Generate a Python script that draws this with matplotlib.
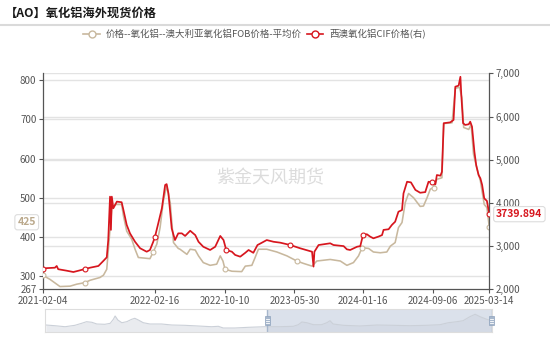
"""Alumina overseas spot prices: Australia FOB (left axis) vs West Australia CIF (right axis)."""

import matplotlib
matplotlib.use("Agg")
import matplotlib.pyplot as plt
import matplotlib.dates as mdates
import matplotlib.transforms as mtransforms
from matplotlib.lines import Line2D
from matplotlib.patches import Rectangle
import numpy as np
import pandas as pd

plt.rcParams["font.family"] = ["Noto Sans CJK SC", "DejaVu Sans"]

# ---------------------------------------------------------------------------
# Data
# ---------------------------------------------------------------------------
TITLE = "【AO】氧化铝海外现货价格"
FOB_LABEL = "价格--氧化铝--澳大利亚氧化铝FOB价格-平均价"
CIF_LABEL = "西澳氧化铝CIF价格(右)"
WATERMARK = "紫金天风期货"

FOB_DATES = [
    "2021-02-04", "2021-03-01", "2021-03-23", "2021-04-03", "2021-05-07", "2021-05-29",
    "2021-06-26", "2021-07-13", "2021-08-15", "2021-08-27", "2021-09-07", "2021-09-18",
    "2021-09-24", "2021-10-05", "2021-10-27", "2021-11-02", "2021-11-13", "2021-11-30",
    "2021-12-11", "2021-12-22", "2022-01-30", "2022-02-10", "2022-02-22", "2022-03-05",
    "2022-03-16", "2022-03-27", "2022-04-08", "2022-04-19", "2022-05-05", "2022-05-11",
    "2022-06-03", "2022-06-14", "2022-07-01", "2022-07-12", "2022-07-28", "2022-08-20",
    "2022-09-11", "2022-09-23", "2022-10-02", "2022-10-09", "2022-11-01", "2022-12-04",
    "2022-12-16", "2023-01-07", "2023-01-18", "2023-01-29", "2023-02-26", "2023-04-01",
    "2023-05-05", "2023-06-07", "2023-06-29", "2023-07-28", "2023-08-13", "2023-09-27",
    "2023-10-31", "2023-11-22", "2023-12-14", "2023-12-31", "2024-01-12", "2024-02-03",
    "2024-02-19", "2024-03-13", "2024-04-04", "2024-04-16", "2024-05-02", "2024-05-13",
    "2024-05-25", "2024-06-05", "2024-06-16", "2024-07-03", "2024-07-25", "2024-08-05",
    "2024-08-17", "2024-08-28", "2024-09-08", "2024-09-19", "2024-10-06", "2024-10-12",
    "2024-11-09", "2024-11-20", "2024-12-04", "2024-12-12", "2024-12-18", "2025-01-04",
    "2025-01-12", "2025-01-20", "2025-02-01", "2025-02-12", "2025-02-25", "2025-03-06",
    "2025-03-14",
]
FOB_VALUES = [
    303, 292, 280, 274, 275, 280, 284, 290, 297, 303, 318, 420, 471, 483, 483, 454, 415, 394,
    369, 348, 345, 362, 382, 424, 492, 530, 488, 386, 371, 369, 356, 369, 367, 352, 335, 328,
    331, 352, 339, 318, 313, 312, 326, 328, 348, 369, 369, 362, 352, 339, 333, 326, 339, 343,
    339, 328, 335, 352, 373, 371, 362, 360, 362, 377, 386, 424, 437, 488, 511, 500, 478, 479,
    500, 522, 526, 547, 551, 689, 691, 779, 781, 755, 679, 674, 687, 611, 573, 543, 483, 475,
    425,
]

CIF_DATES = [
    "2021-02-04", "2021-02-17", "2021-03-17", "2021-03-23", "2021-03-28", "2021-04-26",
    "2021-05-18", "2021-06-04", "2021-06-26", "2021-07-13", "2021-08-10", "2021-08-27",
    "2021-09-07", "2021-09-12", "2021-09-18", "2021-09-21", "2021-09-24", "2021-09-29",
    "2021-10-11", "2021-10-27", "2021-11-02", "2021-11-13", "2021-11-24", "2021-12-11",
    "2021-12-28", "2022-01-19", "2022-01-30", "2022-02-10", "2022-02-16", "2022-02-27",
    "2022-03-11", "2022-03-22", "2022-03-27", "2022-04-02", "2022-04-13", "2022-04-24",
    "2022-05-05", "2022-05-17", "2022-05-28", "2022-06-14", "2022-07-01", "2022-07-12",
    "2022-07-28", "2022-08-20", "2022-09-06", "2022-09-23", "2022-10-04", "2022-10-13",
    "2022-11-01", "2022-11-12", "2022-11-29", "2022-12-16", "2022-12-27", "2023-01-12",
    "2023-01-26", "2023-02-10", "2023-02-26", "2023-03-21", "2023-04-12", "2023-05-16",
    "2023-06-18", "2023-07-28", "2023-08-02", "2023-08-05", "2023-08-19", "2023-09-27",
    "2023-10-08", "2023-11-11", "2023-11-22", "2023-12-03", "2023-12-26", "2024-01-06",
    "2024-01-15", "2024-01-28", "2024-02-08", "2024-02-19", "2024-03-07", "2024-03-19",
    "2024-03-24", "2024-04-10", "2024-04-21", "2024-05-02", "2024-05-13", "2024-05-25",
    "2024-05-30", "2024-06-11", "2024-06-24", "2024-07-09", "2024-07-25", "2024-08-11",
    "2024-08-22", "2024-09-03", "2024-09-14", "2024-09-19", "2024-10-01", "2024-10-06",
    "2024-10-12", "2024-11-03", "2024-11-14", "2024-11-20", "2024-12-01", "2024-12-07",
    "2024-12-10", "2024-12-16", "2024-12-23", "2025-01-04", "2025-01-09", "2025-01-15",
    "2025-01-23", "2025-01-29", "2025-02-06", "2025-02-12", "2025-02-18", "2025-02-25",
    "2025-03-06", "2025-03-14",
]
CIF_VALUES = [
    2460, 2490, 2500, 2540, 2465, 2430, 2400, 2430, 2470, 2500,
    2540, 2660, 2740, 3140, 4145, 3375, 4145, 3875, 4030, 4015,
    3835, 3490, 3295, 3100, 2950, 2870, 2910, 3100, 3220, 3530,
    3875, 4415, 4435, 4220, 3410, 3140, 3295, 3295, 3235, 3355,
    3255, 3100, 2985, 2910, 2985, 3235, 3140, 2910, 2870, 2795,
    2755, 2845, 2910, 2845, 3025, 3080, 3140, 3100, 3080, 3025,
    2950, 2870, 2525, 2870, 3025, 3065, 3025, 3000, 2925, 2910,
    2985, 3000, 3255, 3275, 3220, 3180, 3220, 3255, 3375, 3390,
    3490, 3565, 3795, 3835, 4220, 4490, 4475, 4300, 4235, 4250,
    4490, 4475, 4430, 4645, 4630, 4720, 5845, 5865, 5920, 6690,
    6715, 6920, 6500, 5845, 5805, 5820, 5880, 5765, 5185, 4875,
    4645, 4570, 4415, 4105, 4045, 3739.894,
]

X_TICKS = ["2021-02-04", "2022-02-16", "2022-10-10", "2023-05-30",
           "2024-01-16", "2024-09-06", "2025-03-14"]
LEFT_TICKS = [267, 300, 400, 500, 600, 700, 800]
RIGHT_TICKS = [2000, 3000, 4000, 5000, 6000, 7000]
MARKER_DATES = ["2021-02-04", "2021-06-26", "2022-02-16", "2022-10-10",
                "2023-05-30", "2024-01-16", "2024-09-06", "2025-03-14"]

# data-zoom preview: position along the slider (0-1) and relative height (0-100)
PREVIEW_POS = [
    0.002, 0.022, 0.045, 0.067, 0.082, 0.093, 0.105, 0.116, 0.134, 0.146, 0.153, 0.157,
    0.163, 0.172, 0.183, 0.194, 0.201, 0.209, 0.220, 0.235, 0.261, 0.284, 0.313, 0.343,
    0.373, 0.388, 0.399, 0.425, 0.455, 0.492, 0.526, 0.556, 0.567, 0.575, 0.586, 0.601,
    0.619, 0.631, 0.638, 0.645, 0.668, 0.705, 0.743, 0.780, 0.817, 0.854, 0.884, 0.903,
    0.922, 0.936, 0.951, 0.963, 0.974, 0.989, 1.000,
]
PREVIEW_VAL = [
    31.7, 28.7, 24.3, 30.4, 39.1, 46.1, 43.5, 36.1, 34.8, 39.1, 56.5, 70.9,
    53.5, 41.7, 46.1, 56.5, 60.9, 53.5, 41.7, 36.1, 36.1, 31.7, 30.4, 27.4,
    24.3, 26.1, 18.7, 18.7, 21.7, 24.3, 24.3, 26.1, 33.0, 44.8, 41.7, 33.0,
    33.0, 41.7, 50.4, 36.1, 30.4, 27.4, 31.7, 30.4, 28.7, 30.4, 33.0, 41.7,
    46.1, 50.4, 67.8, 78.3, 67.8, 56.5, 50.4,
]
SLIDER_START = 0.498

FOB_COLOR = "#C8B89E"
CIF_COLOR = "#D7161E"
TEXT_COLOR = "#555555"
GRID_COLOR = "#E3E3E3"


def marker_indices(dates, marks):
    return [int(np.argmin(np.abs((dates - m).days))) for m in marks]


def draw_header(fig):
    fig.text(5 / 550, 1 - 13 / 339, TITLE, fontsize=8.8, fontweight="bold",
             color="#1A1A1A", va="center", ha="left")
    fig.add_artist(Line2D([0, 1], [1 - 24.5 / 339] * 2, color="#DADADA", lw=1.5,
                          transform=fig.transFigure))

    y = 1 - 34 / 339
    for x0, x1, color, label in [(83, 100, FOB_COLOR, FOB_LABEL),
                                 (307, 323, CIF_COLOR, CIF_LABEL)]:
        fig.add_artist(Line2D([x0 / 550, x1 / 550], [y, y], color=color, lw=1.2,
                              transform=fig.transFigure))
        fig.add_artist(Line2D([(x0 + x1) / 1100], [y], marker="o", ms=5, mfc="white",
                              mec=color, mew=1.0, transform=fig.transFigure))
        fig.text((x1 + 6) / 550, y, label, fontsize=6.8, color=TEXT_COLOR,
                 va="center", ha="left")


def draw_slider(fig):
    sax = fig.add_axes([45 / 550, (339 - 332.3) / 339, 446.7 / 550, 23 / 339])
    sax.set_xlim(0, 1)
    sax.set_ylim(0, 100)
    sax.fill_between(PREVIEW_POS, PREVIEW_VAL, 0, color="#E9EBEF", lw=0)
    sax.plot(PREVIEW_POS, PREVIEW_VAL, color="#CBD0D8", lw=0.8)
    sax.add_patch(Rectangle((SLIDER_START, 0), 1 - SLIDER_START, 100,
                            fc="#C9D2E1", alpha=0.65, lw=0))
    for xh in (SLIDER_START, 1.0):
        sax.axvline(xh, color="#A7B7CC", lw=1.0)
        sax.add_patch(Rectangle((xh - 0.006, 30), 0.012, 42, fc="#A7B7CC",
                                ec="#8FA3BD", lw=0.5, clip_on=False, zorder=5))
        for yy in (42, 51, 60):
            sax.plot([xh - 0.004, xh + 0.004], [yy, yy], color="white", lw=0.6,
                     zorder=6, clip_on=False)
    sax.set_xticks([])
    sax.set_yticks([])
    for sp in sax.spines.values():
        sp.set_color("#DDDDDD")
        sp.set_linewidth(0.8)


def main():
    fob_dates = pd.to_datetime(FOB_DATES)
    cif_dates = pd.to_datetime(CIF_DATES)
    marks = pd.to_datetime(MARKER_DATES)

    fig = plt.figure(figsize=(5.5, 3.39), dpi=100)
    ax = fig.add_axes([42.7 / 550, (339 - 289.3) / 339, 446.6 / 550, 216 / 339])
    ax2 = ax.twinx()

    ax.set_xlim(pd.Timestamp(X_TICKS[0]), pd.Timestamp(X_TICKS[-1]))
    ax.set_ylim(267, 817)
    ax2.set_ylim(RIGHT_TICKS[0], RIGHT_TICKS[-1])

    # grid lines of both axes, drawn below the series
    ax.set_axisbelow(True)
    for v in LEFT_TICKS[1:]:
        ax.axhline(v, color=GRID_COLOR, lw=1.0, zorder=0)
    blend = mtransforms.blended_transform_factory(ax.transAxes, ax2.transData)
    for v in RIGHT_TICKS[1:]:
        ax.plot([0, 1], [v, v], color=GRID_COLOR, lw=1.0, transform=blend, zorder=0)

    ax.plot(fob_dates, FOB_VALUES, color=FOB_COLOR, lw=1.15, zorder=3,
            marker="o", ms=3.5, mfc="white", mec=FOB_COLOR, mew=0.8,
            markevery=marker_indices(fob_dates, marks))
    ax2.plot(cif_dates, CIF_VALUES, color=CIF_COLOR, lw=1.25, zorder=3,
             marker="o", ms=3.5, mfc="white", mec=CIF_COLOR, mew=0.8,
             markevery=marker_indices(cif_dates, marks))

    ax.set_xticks(pd.to_datetime(X_TICKS))
    ax.xaxis.set_major_formatter(mdates.DateFormatter("%Y-%m-%d"))
    ax.set_yticks(LEFT_TICKS)
    ax2.set_yticks(RIGHT_TICKS)
    ax2.set_yticklabels([f"{v:,}" for v in RIGHT_TICKS])

    for a in (ax, ax2):
        a.tick_params(labelsize=7, colors=TEXT_COLOR, length=3, width=0.8, pad=1.5)
        for sp in a.spines.values():
            sp.set_visible(False)
    ax.spines["left"].set_visible(True)
    ax.spines["bottom"].set_visible(True)
    ax2.spines["right"].set_visible(True)
    for sp in (ax.spines["left"], ax.spines["bottom"], ax2.spines["right"]):
        sp.set_color("#555555")
        sp.set_linewidth(0.9)

    # end-value labels
    box = dict(boxstyle="round,pad=0.25", fc="white", ec="#DDDDDD", lw=0.8)
    ax.annotate(f"{FOB_VALUES[-1]:g}", xy=(0, FOB_VALUES[-1]),
                xycoords=mtransforms.blended_transform_factory(ax.transAxes, ax.transData),
                xytext=(-11.5, 3.6), textcoords="offset points", ha="center", va="center",
                fontsize=7.5, fontweight="bold", color="#BBA98C", bbox=box,
                annotation_clip=False)
    ax2.annotate(f"{CIF_VALUES[-1]}", xy=(1, CIF_VALUES[-1]),
                 xycoords=mtransforms.blended_transform_factory(ax2.transAxes, ax2.transData),
                 xytext=(5, 0), textcoords="offset points", ha="left", va="center",
                 fontsize=7.5, fontweight="bold", color=CIF_COLOR, bbox=box,
                 annotation_clip=False, zorder=10)

    fig.text(270 / 550, 1 - 178 / 339, WATERMARK, fontsize=13, color="#DCDCDC",
             fontweight="light", ha="center", va="center")

    draw_header(fig)
    draw_slider(fig)

    fig.savefig("out.png", dpi=100)


if __name__ == "__main__":
    main()
